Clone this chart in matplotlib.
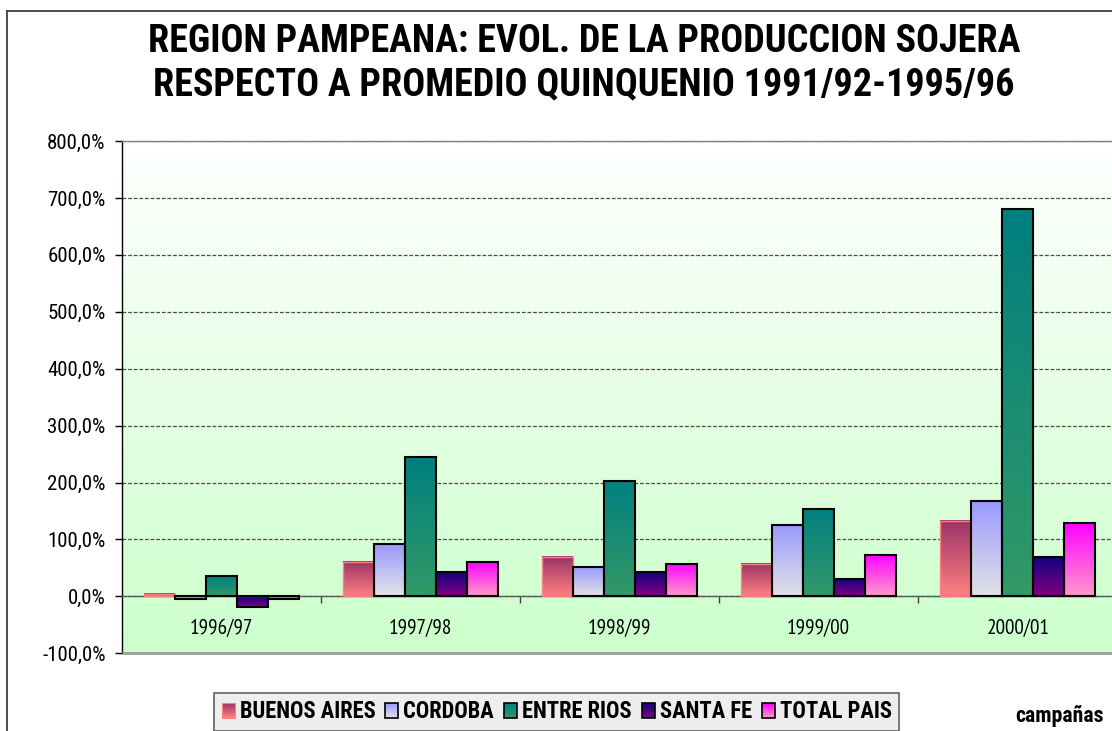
import numpy as np
import matplotlib
matplotlib.use('Agg')
import matplotlib.pyplot as plt
from matplotlib.patches import Rectangle
from matplotlib.lines import Line2D
from matplotlib.legend_handler import HandlerBase
from matplotlib.image import BboxImage
from matplotlib.transforms import Bbox, TransformedBbox
from matplotlib.colors import to_rgb
from matplotlib.font_manager import FontProperties, findfont
from matplotlib.textpath import TextPath

# ---------------- data ----------------
campaigns = ['1996/97', '1997/98', '1998/99', '1999/00', '2000/01']
series_names = ['BUENOS AIRES', 'CORDOBA', 'ENTRE RIOS', 'SANTA FE', 'TOTAL PAIS']
buenos_aires = [4.0, 60.0, 70.0, 56.5, 132.5]
cordoba = [-4.5, 91.5, 52.0, 125.0, 167.5]
entre_rios = [35.0, 244.0, 202.5, 153.0, 681.0]
santa_fe = [-18.0, 42.0, 42.0, 31.0, 70.0]
total_pais = [-4.5, 60.0, 56.5, 73.0, 128.5]
yticks = [-100, 0, 100, 200, 300, 400, 500, 600, 700, 800]
title_lines = ['REGION PAMPEANA: EVOL. DE LA PRODUCCION SOJERA',
               'RESPECTO A PROMEDIO QUINQUENIO 1991/92-1995/96']
x_title = 'campañas'

series_values = [buenos_aires, cordoba, entre_rios, santa_fe, total_pais]
# gradient (top colour, bottom colour, edge colour, edge width)
styles = [
    ('#993366', '#FF8080', '#FF8080', 1.0),
    ('#9999FF', '#E2E2E6', '#000000', 1.5),
    ('#008080', '#339966', '#000000', 1.5),
    ('#12007F', '#800080', '#000000', 1.5),
    ('#FF00FF', '#FF99CC', '#000000', 1.5),
]

W, H = 1112, 731
fig = plt.figure(figsize=(W / 100, H / 100), dpi=100)
renderer = fig.canvas.get_renderer()

REG_CANDS = ['Archivo Narrow', 'Roboto Condensed', 'PT Sans Narrow',
             'Fira Sans Condensed', 'Liberation Sans']


def available(fam, weight):
    try:
        findfont(FontProperties(family=fam, weight=weight), fallback_to_default=False)
        return True
    except Exception:
        return False


BOLD = 'Roboto Condensed' if available('Roboto Condensed', 'bold') else 'Liberation Sans'


def text_width(strings, fam, weight, size):
    tot = 0.0
    for s in strings:
        t = fig.text(0, 0, s, fontsize=size, family=fam, weight=weight)
        tot += t.get_window_extent(renderer).width
        t.remove()
    return tot


def width_fit(strings, target_w, fam, weight):
    return 20.0 * target_w / text_width(strings, fam, weight, 20.0)


def pick_font(strings, cap_px, target_w, weight, cands):
    best = None
    for fam in cands:
        if not available(fam, weight):
            continue
        fp = FontProperties(family=fam, weight=weight, size=100)
        capr = TextPath((0, 0), 'H', prop=fp).get_extents().height / 100.0
        size_h = cap_px / capr * 0.72
        w = text_width(strings, fam, weight, size_h)
        score = abs(np.log(w / target_w))
        size_w = size_h * target_w / w
        size = np.sqrt(size_h * size_w)
        if best is None or score < best[0]:
            best = (score, fam, size)
    return best[1], best[2]


def grad(top, bottom, n=128):
    a = np.array(to_rgb(top))
    b = np.array(to_rgb(bottom))
    f = np.linspace(0, 1, n)[:, None]
    col = a * (1 - f) + b * f
    return np.repeat(col[:, None, :], 2, axis=1)


# ---------------- fonts ----------------
TSIZE = width_fit([title_lines[0]], 872, BOLD, 'bold')
YFAM, YSIZE = pick_font(['800,0%', '-100,0%'], 14.8, 58 + 65, 'normal', REG_CANDS)
CFAM, CSIZE = pick_font([campaigns[0]], 15.0, 63, 'normal', REG_CANDS)
LSIZE = width_fit(series_names, 542, BOLD, 'bold')
KSIZE = width_fit([x_title], 88, BOLD, 'bold')

# ---------------- figure frame ----------------
fig.add_artist(Line2D([7 / W, 7 / W], [1 - 11 / H, 0], transform=fig.transFigure,
                      color='#404040', lw=1.3))
fig.add_artist(Line2D([7 / W, 1], [1 - 11 / H, 1 - 11 / H], transform=fig.transFigure,
                      color='#404040', lw=1.3))

# ---------------- title ----------------
fig.text(584 / W, 1 - 52 / H, title_lines[0], ha='center', va='baseline',
         fontsize=TSIZE, family=BOLD, weight='bold')
fig.text(584 / W, 1 - 95 / H, title_lines[1], ha='center', va='baseline',
         fontsize=TSIZE, family=BOLD, weight='bold')

# ---------------- axes ----------------
ax = fig.add_axes([121.5 / W, 1 - 653.3 / H, (1117.5 - 121.5) / W, (653.3 - 141) / H])
ax.set_facecolor('none')
ax.set_axisbelow(True)

# background gradient (white -> light green)
ax.imshow(grad('#FFFFFF', '#CCFFCC'), extent=(0, 1, 0, 1), transform=ax.transAxes,
          aspect='auto', interpolation='bilinear', zorder=-1)

x = np.arange(len(campaigns))
n = len(series_names)
bw = 0.1556
containers = []
for i, (vals, st) in enumerate(zip(series_values, styles)):
    top, bot, edge, lw = st
    bars = ax.bar(x + (i - (n - 1) / 2) * bw, vals, width=bw, facecolor='none',
                  edgecolor=edge, linewidth=lw, zorder=3, label=series_names[i])
    containers.append(bars)
    g = grad(top, bot)
    for r in bars:
        x0 = r.get_x()
        y0 = r.get_y()
        h = r.get_height()
        ax.imshow(g, extent=(x0, x0 + r.get_width(), min(y0, y0 + h), max(y0, y0 + h)),
                  aspect='auto', interpolation='bilinear', origin='upper', zorder=2)

ax.set_xlim(-0.5, len(campaigns) - 0.5)
ax.set_ylim(yticks[0], yticks[-1])

# y axis
ax.set_yticks(yticks, labels=[('%.1f%%' % v).replace('.', ',') for v in yticks])
ax.tick_params(axis='y', direction='out', length=5, width=1, color='black',
               pad=6.5, labelsize=YSIZE)
for lab in ax.get_yticklabels():
    lab.set_family(YFAM)
ax.yaxis.grid(True, linestyle=(0, (3, 1.5)), color='#4A4A4A', linewidth=0.9)

# x axis: category axis crossing at zero
ax.spines['bottom'].set_position(('data', 0))
ax.spines['bottom'].set_color('#5A5A5A')
ax.spines['bottom'].set_linewidth(1.0)
ax.spines['bottom'].set_zorder(2.5)
ax.set_xticks(x[:-1] + 0.5, labels=[''] * (len(campaigns) - 1))
ax.set_xticks(x, labels=campaigns, minor=True)
ax.tick_params(axis='x', which='major', direction='out', length=5, width=1, color='#404040')
ax.tick_params(axis='x', which='minor', length=0, pad=16, labelsize=CSIZE)
for lab in ax.get_xticklabels(minor=True):
    lab.set_family(CFAM)

ax.spines['left'].set_color('black')
ax.spines['left'].set_linewidth(1.0)
ax.spines['top'].set_color('#808080')
ax.spines['top'].set_linewidth(1.0)
ax.spines['right'].set_visible(False)
# bottom border of plot area
ax.plot([0, 1], [0, 0], transform=ax.transAxes, color='#A0A0A0', lw=2.2,
        clip_on=False, zorder=4, solid_capstyle='butt')


# ---------------- legend ----------------
class GradientHandler(HandlerBase):
    def __init__(self, top, bottom, edge, lw, wpt, hpt):
        super().__init__()
        self.top, self.bottom, self.edge, self.lw = top, bottom, edge, lw
        self.wpt, self.hpt = wpt, hpt

    def create_artists(self, legend, orig_handle, xdescent, ydescent, width, height,
                       fontsize, trans):
        cx = -xdescent + width / 2
        cy = -ydescent + height / 2
        x0 = cx - self.wpt / 2
        y0 = cy - self.hpt / 2
        bb = TransformedBbox(Bbox.from_bounds(x0, y0, self.wpt, self.hpt), trans)
        img = BboxImage(bb, interpolation='bilinear')
        img.set_data(grad(self.top, self.bottom, 32))
        rect = Rectangle((x0, y0), self.wpt, self.hpt, facecolor='none',
                         edgecolor=self.edge, lw=self.lw * 0.8, transform=trans)
        return [img, rect]


fs_px = LSIZE * 100 / 72
mw, mh = 13 * 0.72, 15 * 0.72  # marker size in points
hmap = {c: GradientHandler(st[0], st[1], st[2], st[3], mw, mh)
        for c, st in zip(containers, styles)}
leg = ax.legend(handles=containers, labels=series_names, handler_map=hmap,
                loc='upper left', bbox_to_anchor=(214 / W, 1 - 692.7 / H),
                bbox_transform=fig.transFigure, ncol=5, frameon=True,
                fancybox=False, framealpha=1, borderaxespad=0,
                prop={'family': BOLD, 'weight': 'bold', 'size': LSIZE},
                handlelength=13 / fs_px, handleheight=0.7, handletextpad=5 / fs_px,
                columnspacing=10 / fs_px, borderpad=7.5 / fs_px)
leg.get_frame().set_facecolor('#EEEEEE')
leg.get_frame().set_edgecolor('#606060')
leg.get_frame().set_linewidth(1.2)

# axis title at bottom right
fig.text(1015 / W, 1 - 721.7 / H, x_title, ha='left', va='baseline',
         fontsize=KSIZE, family=BOLD, weight='bold')

fig.savefig('out.png', dpi=100)
